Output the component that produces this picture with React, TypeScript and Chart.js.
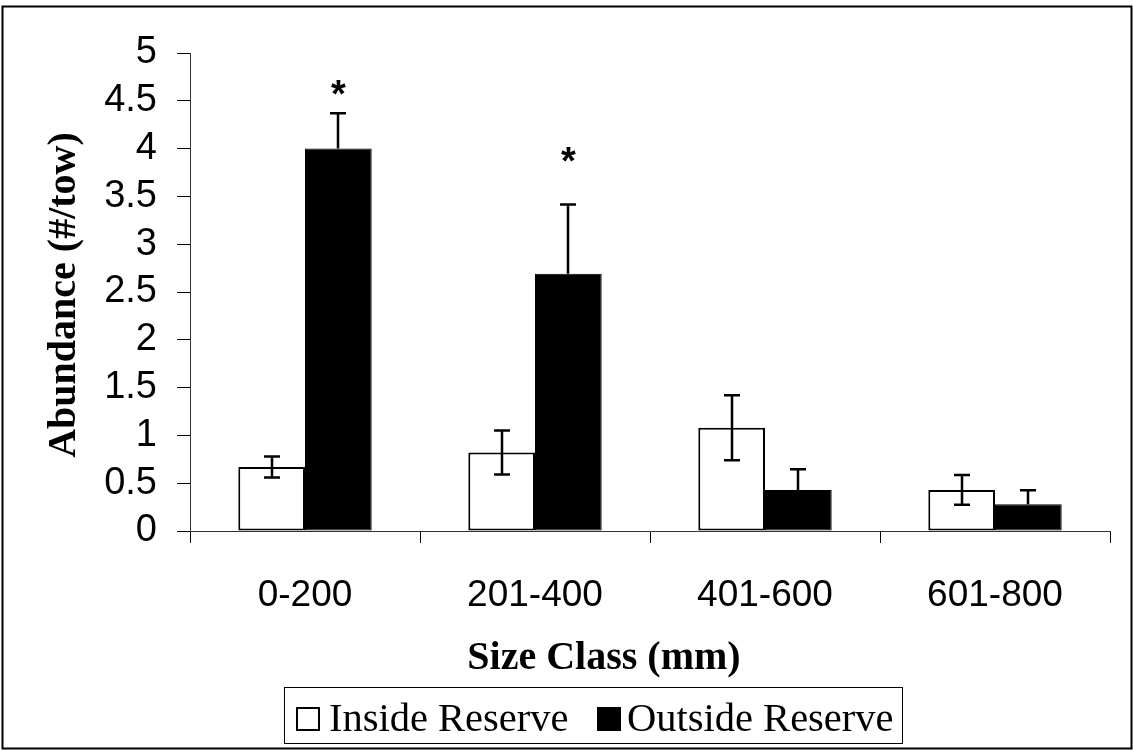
import React, { useEffect, useRef } from "react";
import { Chart, registerables } from "chart.js";

Chart.register(...registerables);

// ---- data ----
const categories = ["0-200", "201-400", "401-600", "601-800"];
const seriesNames = ["Inside Reserve", "Outside Reserve"];
const insideValues = [0.67, 0.82, 1.08, 0.43];
const insideErrors = [0.11, 0.23, 0.34, 0.155];
const outsideValues = [4.0, 2.69, 0.43, 0.28];
const outsideErrors = [0.37, 0.725, 0.215, 0.147];
const significanceMarks = ["*", "*", "", ""];
const significanceLevels = [4.65, 3.95, 0, 0];
const yTickValues = [0, 0.5, 1, 1.5, 2, 2.5, 3, 3.5, 4, 4.5, 5];
const xTitle = "Size Class (mm)";
const yTitle = "Abundance (#/tow)";

const SANS = "'Liberation Sans', Arial, sans-serif";
const SERIF = "'Liberation Serif', 'Times New Roman', serif";

const decorPlugin = {
  id: "decor",
  beforeDraw(chart: any) {
    const ctx = chart.ctx;
    ctx.save();
    ctx.fillStyle = "#fff";
    ctx.fillRect(0, 0, chart.width, chart.height);
    ctx.restore();
  },
  afterDatasetsDraw(chart: any) {
    const ctx = chart.ctx;
    const yScale = chart.scales.y;
    const sets: [number, number[], number[], boolean][] = [
      [0, insideValues, insideErrors, true],
      [1, outsideValues, outsideErrors, false],
    ];
    ctx.save();
    ctx.strokeStyle = "#000";
    ctx.lineWidth = 2.5;
    sets.forEach(([dsIndex, vals, errs, lower]) => {
      const meta = chart.getDatasetMeta(dsIndex);
      vals.forEach((v, i) => {
        const bar = meta.data[i];
        if (!bar) return;
        const x = Math.round(bar.x);
        const top = yScale.getPixelForValue(v + errs[i]);
        const bottom = lower ? yScale.getPixelForValue(v - errs[i]) : yScale.getPixelForValue(v);
        ctx.beginPath();
        ctx.moveTo(x, top);
        ctx.lineTo(x, bottom);
        ctx.moveTo(x - 8, top);
        ctx.lineTo(x + 8, top);
        if (lower) {
          ctx.moveTo(x - 8, bottom);
          ctx.lineTo(x + 8, bottom);
        }
        ctx.stroke();
      });
    });
    // significance asterisks
    const metaOut = chart.getDatasetMeta(1);
    ctx.fillStyle = "#000";
    ctx.font = `bold 38px ${SANS}`;
    ctx.textAlign = "center";
    ctx.textBaseline = "alphabetic";
    significanceMarks.forEach((m, i) => {
      if (!m) return;
      const bar = metaOut.data[i];
      const yc = yScale.getPixelForValue(significanceLevels[i]);
      ctx.fillText(m, bar.x, yc + 21);
    });
    ctx.restore();
  },
  afterDraw(chart: any) {
    const ctx = chart.ctx;
    ctx.save();
    ctx.fillStyle = "#000";
    // axis titles
    ctx.font = `bold 40px ${SERIF}`;
    ctx.textAlign = "center";
    ctx.textBaseline = "alphabetic";
    ctx.fillText(xTitle, 604, 669);
    ctx.save();
    ctx.translate(75, 295);
    ctx.rotate(-Math.PI / 2);
    ctx.font = `bold 40px ${SERIF}`;
    ctx.fillText(yTitle, 0, 0);
    ctx.restore();

    // legend
    ctx.strokeStyle = "#000";
    ctx.lineWidth = 1;
    ctx.strokeRect(284.5, 687.5, 618, 56);
    ctx.lineWidth = 2;
    ctx.fillStyle = "#fff";
    ctx.fillRect(296, 707, 23, 23);
    ctx.strokeRect(297, 708, 22, 22);
    ctx.fillStyle = "#000";
    ctx.fillRect(597, 707, 24, 24);
    ctx.font = `40.5px ${SERIF}`;
    ctx.textAlign = "left";
    ctx.fillText(seriesNames[0], 329, 731);
    ctx.fillText(seriesNames[1], 627, 731);

    // outer border
    ctx.lineWidth = 2;
    ctx.strokeRect(2.5, 6.5, 1129, 742);
    ctx.restore();
  },
};

export default function App() {
  const canvasRef = useRef<HTMLCanvasElement | null>(null);

  useEffect(() => {
    const canvas = canvasRef.current;
    if (!canvas) return;
    const chart = new Chart(canvas, {
      type: "bar",
      data: {
        labels: categories,
        datasets: [
          {
            label: seriesNames[0],
            data: insideValues,
            backgroundColor: "#ffffff",
            borderColor: "#000000",
            borderWidth: 2,
            borderSkipped: false,
            categoryPercentage: 0.58,
            barPercentage: 1.0,
          },
          {
            label: seriesNames[1],
            data: outsideValues,
            backgroundColor: "#000000",
            borderColor: "#000000",
            borderWidth: 1,
            borderSkipped: false,
            categoryPercentage: 0.58,
            barPercentage: 1.0,
          },
        ],
      },
      options: {
        responsive: false,
        animation: false,
        events: [],
        layout: { padding: { top: 53, right: 23, left: 0, bottom: 0 } },
        plugins: {
          legend: { display: false },
          tooltip: { enabled: false },
          title: { display: false },
        },
        scales: {
          x: {
            type: "category",
            grid: {
              display: true,
              offset: true,
              drawOnChartArea: false,
              drawTicks: true,
              tickLength: 12,
              color: "#000",
              lineWidth: 1,
            },
            border: { display: true, color: "#333", width: 1 },
            ticks: {
              color: "#000",
              font: { family: SANS, size: 37 },
              padding: 31,
              maxRotation: 0,
              autoSkip: false,
            },
            afterFit: (scale: any) => {
              scale.height = 220;
            },
          },
          y: {
            min: 0,
            max: 5,
            grid: {
              display: true,
              drawOnChartArea: false,
              drawTicks: true,
              tickLength: 13,
              color: "#000",
              lineWidth: 1,
            },
            border: { display: true, color: "#333", width: 1 },
            ticks: {
              color: "#000",
              font: { family: SANS, size: 38 },
              padding: 20,
              autoSkip: false,
              callback: (v: any) => String(Number(v)),
            },
            afterBuildTicks: (scale: any) => {
              scale.ticks = yTickValues.map((v) => ({ value: v }));
            },
            afterFit: (scale: any) => {
              scale.width = 190;
            },
          },
        },
      },
      plugins: [decorPlugin],
    });
    return () => chart.destroy();
  }, []);

  return (
    <div style={{ position: "absolute", left: 0, top: 0, width: 1133, height: 751, background: "#fff" }}>
      <canvas ref={canvasRef} width={1133} height={751} style={{ display: "block" }} />
    </div>
  );
}
